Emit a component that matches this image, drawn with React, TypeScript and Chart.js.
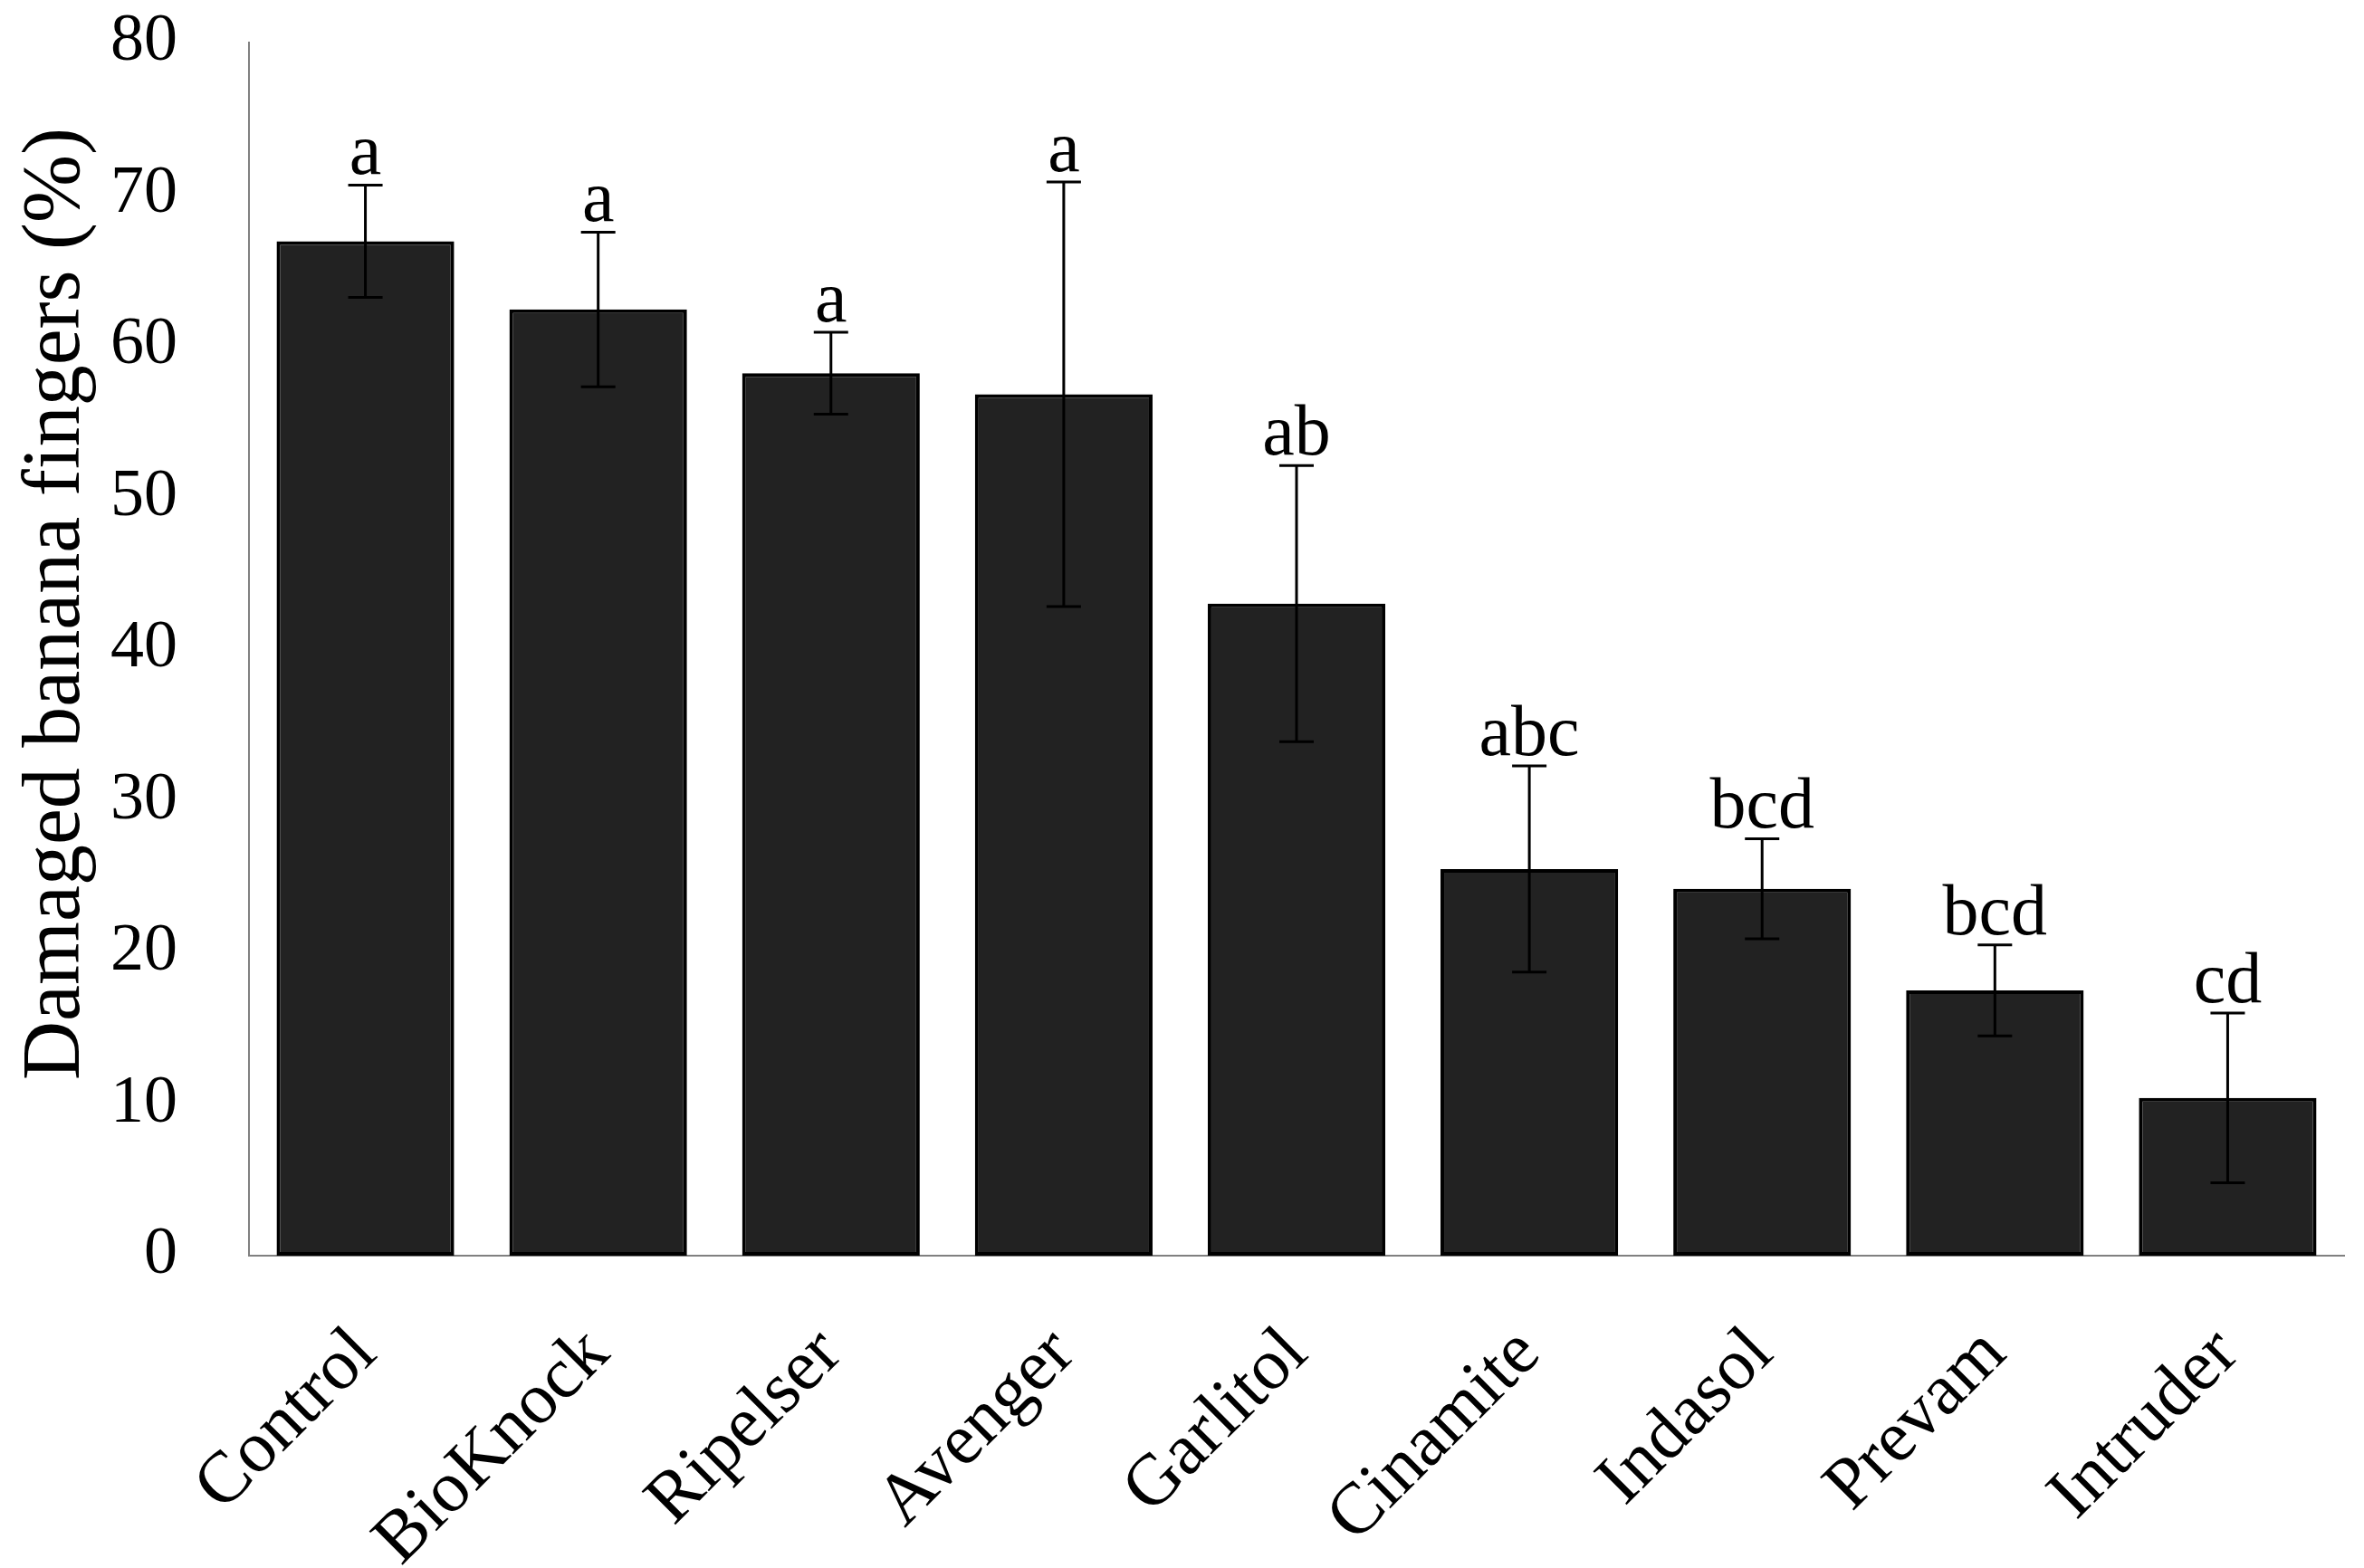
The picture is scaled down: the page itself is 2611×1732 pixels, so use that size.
import React, { useEffect, useRef } from 'react';
import { Chart, registerables } from 'chart.js';

Chart.register(...registerables);

const categories = ['Control', 'BioKnock', 'Ripelser', 'Avenger', 'Garlitol', 'Cinamite', 'Indasol', 'Prevam', 'Intruder'];
const damagedPercent = [66.9, 62.4, 58.2, 56.8, 43.0, 25.5, 24.2, 17.5, 10.4];
const errorBars = [3.7, 5.1, 2.7, 14.0, 9.1, 6.8, 3.3, 3.0, 5.6];
const groupLetters = ['a', 'a', 'a', 'a', 'ab', 'abc', 'bcd', 'bcd', 'cd'];
const yTickValues = [0, 10, 20, 30, 40, 50, 60, 70, 80];
const yAxisTitle = 'Damaged banana fingers (%)';

const FONT = '"Liberation Serif", "Times New Roman", serif';

const errorBarPlugin = {
  id: 'errorBarsAndLetters',
  afterDatasetsDraw(chart: any) {
    const ctx = chart.ctx;
    const meta = chart.getDatasetMeta(0);
    const yScale = chart.scales.y;
    ctx.save();
    ctx.strokeStyle = '#000';
    ctx.lineWidth = 3;
    ctx.fillStyle = '#000';
    ctx.font = `80px ${FONT}`;
    ctx.textAlign = 'center';
    ctx.textBaseline = 'alphabetic';
    meta.data.forEach((bar: any, i: number) => {
      const x = bar.x;
      const v = damagedPercent[i];
      const e = errorBars[i];
      const yTop = yScale.getPixelForValue(v + e);
      const yBot = yScale.getPixelForValue(v - e);
      const cap = 19;
      ctx.beginPath();
      ctx.moveTo(x, yTop);
      ctx.lineTo(x, yBot);
      ctx.moveTo(x - cap, yTop);
      ctx.lineTo(x + cap, yTop);
      ctx.moveTo(x - cap, yBot);
      ctx.lineTo(x + cap, yBot);
      ctx.stroke();
      ctx.fillText(groupLetters[i], x, yTop - 12);
    });
    ctx.restore();
  },
};

// Y-axis title drawn as rotated text, placed a little above the axis centre as in the reference
const yTitlePlugin = {
  id: 'yAxisTitle',
  afterDraw(chart: any) {
    const ctx = chart.ctx;
    const area = chart.chartArea;
    ctx.save();
    ctx.fillStyle = '#000';
    ctx.font = `90px ${FONT}`;
    ctx.textAlign = 'center';
    ctx.textBaseline = 'middle';
    const cy = (area.top + area.bottom) / 2 - 50;
    ctx.translate(63, cy);
    ctx.rotate(-Math.PI / 2);
    ctx.fillText(yAxisTitle, 0, 0);
    ctx.restore();
  },
};

export default function App() {
  const canvasRef = useRef<HTMLCanvasElement | null>(null);

  useEffect(() => {
    if (!canvasRef.current) return;
    const chart = new Chart(canvasRef.current, {
      type: 'bar',
      data: {
        labels: categories,
        datasets: [
          {
            data: damagedPercent,
            backgroundColor: '#222222',
            borderColor: '#000000',
            borderWidth: 4,
            borderSkipped: false,
            categoryPercentage: 1,
            barPercentage: 0.763,
          },
        ],
      },
      options: {
        responsive: false,
        animation: false,
        devicePixelRatio: 1,
        layout: { padding: { top: 47, right: 22, bottom: 0, left: 0 } },
        plugins: {
          legend: { display: false },
          tooltip: { enabled: false },
        },
        scales: {
          x: {
            grid: { display: false, drawTicks: false },
            border: { display: true, color: '#808080', width: 2 },
            ticks: {
              color: '#000',
              font: { family: FONT, size: 80 },
              minRotation: 45,
              maxRotation: 45,
              padding: 62,
              autoSkip: false,
            },
            afterFit: (scale: any) => {
              scale.height = 345;
              scale.paddingLeft = 0;
              scale.paddingRight = 0;
            },
          },
          y: {
            min: 0,
            max: 80,
            grid: { display: false, drawTicks: false },
            border: { display: true, color: '#808080', width: 2 },
            ticks: {
              color: '#000',
              font: { family: FONT, size: 74 },
              padding: 79,
            },
            afterBuildTicks: (scale: any) => {
              scale.ticks = yTickValues.map((v) => ({ value: v }));
            },
            title: { display: false },
            afterFit: (scale: any) => {
              scale.width = 275;
              scale.paddingTop = 0;
              scale.paddingBottom = 0;
            },
          },
        },
      },
      plugins: [errorBarPlugin, yTitlePlugin],
    });
    return () => chart.destroy();
  }, []);

  return (
    <div style={{ position: 'absolute', left: 0, top: 0, width: 2611, height: 1732, background: '#fff' }}>
      <canvas ref={canvasRef} width={2611} height={1732} style={{ display: 'block', width: 2611, height: 1732 }} />
    </div>
  );
}
